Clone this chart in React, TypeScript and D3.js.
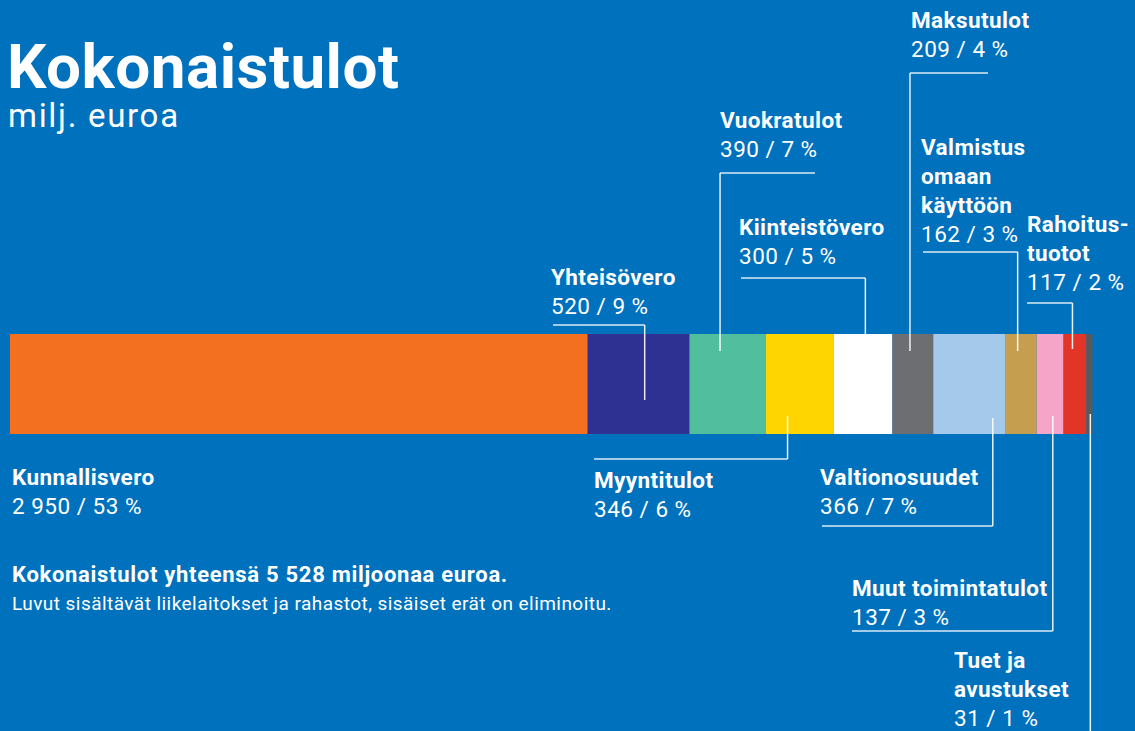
import * as d3 from "d3";
import React from "react";

// tulolajit palkin järjestyksessä (milj. euroa)
const categories = [
  "Kunnallisvero",
  "Yhteisövero",
  "Vuokratulot",
  "Myyntitulot",
  "Kiinteistövero",
  "Maksutulot",
  "Valtionosuudet",
  "Valmistus omaan käyttöön",
  "Muut toimintatulot",
  "Rahoitustuotot",
  "Tuet ja avustukset",
];
const values = [2950, 520, 390, 346, 300, 209, 366, 162, 137, 117, 31];
const percents = [53, 9, 7, 6, 5, 4, 7, 3, 3, 2, 1];
const colors = [
  "#F37021", "#2E3192", "#51BF9E", "#FFD500", "#FFFFFF", "#6D6E71",
  "#A4C9EB", "#C69E50", "#F4A5C8", "#E23427", "#58595B",
];

const W = 1135;
const H = 731;
const BG = "#0071BC";
const FONT = "Roboto, 'Noto Sans', sans-serif";

// label placement: name lines, label x, first baseline, leader position in
// segment (0..1), elbow y, horizontal line start/end (missing = leader), tip y
type Layout = {
  lines: string[];
  lx: number;
  by: number;
  frac?: number;
  elbow?: number;
  hFrom?: number;
  hTo?: number;
  tip?: number;
};
const layout: Layout[] = [
  { lines: ["Kunnallisvero"], lx: 12, by: 485 },
  { lines: ["Yhteisövero"], lx: 551, by: 285, frac: 0.56, elbow: 325, hFrom: 553, tip: 400 },
  { lines: ["Vuokratulot"], lx: 720, by: 128, frac: 0.4, elbow: 173, hTo: 815, tip: 351 },
  { lines: ["Myyntitulot"], lx: 594, by: 488, frac: 0.32, elbow: 459, hFrom: 594, tip: 416 },
  { lines: ["Kiinteistövero"], lx: 739, by: 235, frac: 0.54, elbow: 278, hFrom: 741, tip: 351 },
  { lines: ["Maksutulot"], lx: 911, by: 28, frac: 0.43, elbow: 73, hTo: 988, tip: 351 },
  { lines: ["Valtionosuudet"], lx: 820, by: 485, frac: 0.83, elbow: 526, hFrom: 822, tip: 418 },
  { lines: ["Valmistus", "omaan", "käyttöön"], lx: 921, by: 155, frac: 0.4, elbow: 252, hFrom: 923, tip: 351 },
  { lines: ["Muut toimintatulot"], lx: 852, by: 596, frac: 0.6, elbow: 631, hFrom: 852, tip: 416 },
  { lines: ["Rahoitus-", "tuotot"], lx: 1027, by: 232, frac: 0.39, elbow: 303, hFrom: 1027, tip: 349 },
  { lines: ["Tuet ja", "avustukset"], lx: 954, by: 668, frac: 0.64, elbow: 740, tip: 414 },
];

const fi = d3.formatLocale({ decimal: ",", thousands: "\u00a0", grouping: [3], currency: ["", " €"] });
const fmt = fi.format(",d");

const App = () => {
  const total = d3.sum(values);
  const starts = [0, ...Array.from(d3.cumsum(values)).slice(0, -1)];

  const x = d3.scaleLinear().domain([0, total]).range([10, 1092.5]);
  const barTop = 334;
  const barH = 100;
  const lh = 29; // line height for labels

  return (
    <svg
      width={W}
      height={H}
      style={{ position: "absolute", left: 0, top: 0, display: "block" }}
      fontFamily={FONT}
    >
      <rect width={W} height={H} fill={BG} />

      <text x={7} y={88} fill="#fff" fontSize={62} fontWeight={700} letterSpacing={0.5}>
        Kokonaistulot
      </text>
      <text x={8} y={127} fill="#fff" fontSize={33} letterSpacing={1.7}>
        milj. euroa
      </text>

      {values.map((v, i) => (
        <rect
          key={categories[i]}
          x={x(starts[i])}
          y={barTop}
          width={x(starts[i] + v) - x(starts[i])}
          height={barH}
          fill={colors[i]}
        />
      ))}

      {layout.map((d, i) => {
        const x0 = x(starts[i]);
        const x1 = x(starts[i] + values[i]);
        const lx = d.frac !== undefined ? x0 + d.frac * (x1 - x0) : null;
        let h = null;
        if (lx !== null && (d.hFrom !== undefined || d.hTo !== undefined)) {
          const a = d.hFrom !== undefined ? d.hFrom : lx;
          const b = d.hTo !== undefined ? d.hTo : lx;
          h = [a, b];
        }
        return (
          <g key={"lbl" + i}>
            {lx !== null && (
              <line x1={lx} x2={lx} y1={d.elbow} y2={d.tip} stroke="#fff" strokeWidth={1.5} strokeOpacity={0.9} />
            )}
            {h && (
              <line x1={h[0]} x2={h[1]} y1={d.elbow} y2={d.elbow} stroke="#fff" strokeWidth={1.5} strokeOpacity={0.85} />
            )}
            {d.lines.map((t, j) => (
              <text key={j} x={d.lx} y={d.by + j * lh} fill="#fff" fontSize={22.5} fontWeight={700} letterSpacing={0.4}>
                {t}
              </text>
            ))}
            <text x={d.lx} y={d.by + d.lines.length * lh} fill="#fff" fontSize={22.5} letterSpacing={0.5}>
              {`${fmt(values[i])} / ${percents[i]} %`}
            </text>
          </g>
        );
      })}

      <text x={12} y={582} fill="#fff" fontSize={22} fontWeight={700} letterSpacing={0.7}>
        {`Kokonaistulot yhteensä ${fmt(total)} miljoonaa euroa.`}
      </text>
      <text x={12} y={610} fill="#fff" fontSize={19} letterSpacing={0.45}>
        Luvut sisältävät liikelaitokset ja rahastot, sisäiset erät on eliminoitu.
      </text>
    </svg>
  );
};

export default App;
